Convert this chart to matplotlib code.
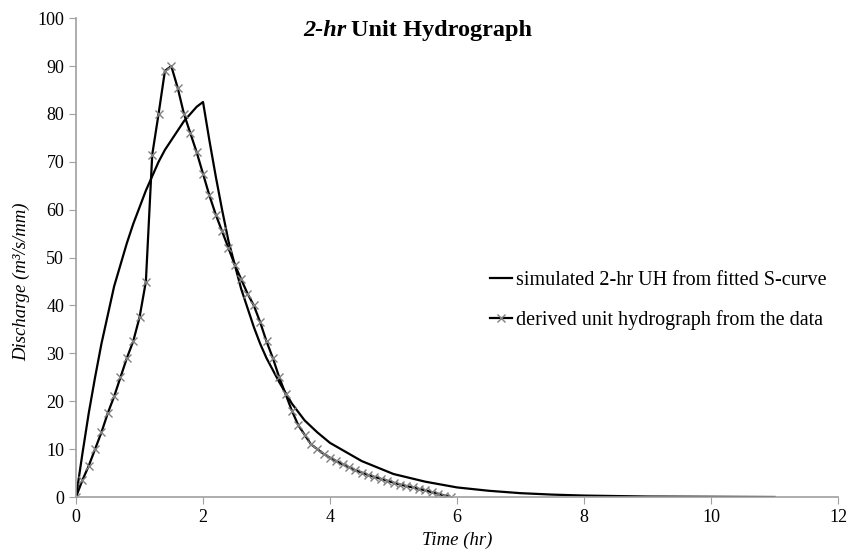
import numpy as np
import matplotlib
matplotlib.use('Agg')
import matplotlib.pyplot as plt

# derived unit hydrograph (0.1 hr steps)
t_derived = [0.0, 0.1, 0.2, 0.3, 0.4, 0.5, 0.6, 0.7, 0.8, 0.9,
             1.0, 1.1, 1.2, 1.3, 1.4, 1.5, 1.6, 1.7, 1.8, 1.9,
             2.0, 2.1, 2.2, 2.3, 2.4, 2.5, 2.6, 2.7, 2.8, 2.9,
             3.0, 3.1, 3.2, 3.3, 3.4, 3.5, 3.6, 3.7, 3.8, 3.9,
             4.0, 4.1, 4.2, 4.3, 4.4, 4.5, 4.6, 4.7, 4.8, 4.9,
             5.0, 5.1, 5.2, 5.3, 5.4, 5.5, 5.6, 5.7, 5.8, 5.9]
q_derived = [0.0, 3.5, 6.5, 10.0, 13.5, 17.5, 21.0, 25.0, 29.0, 32.5,
             37.5, 45.0, 71.5, 80.0, 89.0, 90.0, 85.5, 80.0, 76.0, 72.0,
             67.5, 63.0, 59.0, 55.5, 52.0, 48.5, 45.5, 42.5, 40.0, 36.5,
             32.5, 29.0, 25.0, 21.5, 18.0, 15.0, 13.0, 11.0, 10.0, 9.0,
             8.2, 7.5, 6.8, 6.2, 5.6, 5.1, 4.6, 4.2, 3.8, 3.4,
             3.0, 2.6, 2.3, 2.0, 1.7, 1.4, 1.0, 0.7, 0.3, 0.0]

# simulated 2-hr UH from fitted S-curve
t_sim = [0.0, 0.1, 0.2, 0.3, 0.4, 0.5, 0.6, 0.7, 0.8, 0.9,
         1.0, 1.1, 1.2, 1.3, 1.4, 1.5, 1.6, 1.7, 1.8, 1.9,
         2.0, 2.1, 2.2, 2.3, 2.4, 2.5, 2.6, 2.7, 2.8, 2.9,
         3.0, 3.2, 3.4, 3.6, 3.8, 4.0, 4.5, 5.0, 5.5, 6.0,
         6.5, 7.0, 7.5, 8.0, 8.5, 9.0, 10.0, 11.0]
q_sim = [0.0, 9.0, 17.5, 25.0, 32.0, 38.0, 44.0, 48.5, 53.0, 57.0,
         60.5, 64.0, 67.0, 70.0, 72.5, 74.5, 76.5, 78.5, 80.0, 81.5,
         82.5, 74.5, 67.0, 60.0, 53.5, 48.5, 43.5, 39.5, 35.5, 32.0,
         29.0, 24.0, 19.5, 16.0, 13.5, 11.3, 7.5, 4.8, 3.2, 2.0,
         1.3, 0.8, 0.5, 0.3, 0.2, 0.1, 0.05, 0.0]

plt.rcParams['font.family'] = ['Liberation Serif', 'DejaVu Serif']

fig = plt.figure(figsize=(8.61, 5.6), dpi=100)
ax = fig.add_axes([0.0883, 0.1125, 0.885, 0.855])

ax.plot(t_sim, q_sim, color='black', lw=1.6,
        label='simulated 2-hr UH from fitted S-curve')
ax.plot(t_derived, q_derived, color='black', lw=1.6, marker='x',
        markersize=6, markeredgecolor='#808080', markeredgewidth=1.0,
        label='derived unit hydrograph from the data')

ax.set_xlim(0, 12)
ax.set_ylim(0, 100)
ax.set_xticks(range(0, 13, 2))
ax.set_yticks(range(0, 101, 10))
ax.tick_params(colors='#a0a0a0', labelcolor='black', labelsize=13,
               direction='out', length=5)
for side in ['top', 'right']:
    ax.spines[side].set_visible(False)
for side in ['left', 'bottom']:
    ax.spines[side].set_color('#a0a0a0')
    ax.spines[side].set_linewidth(1.2)

ax.set_xlabel('Time (hr)', fontsize=13.5, style='italic', labelpad=4)
ax.set_ylabel('Discharge (m³/s/mm)', fontsize=13.5, style='italic')
ax.yaxis.set_label_coords(-0.06, 0.45)

fig.text(0.403, 0.936, '2-hr', fontsize=17.5, fontweight='bold', style='italic',
         ha='right', va='baseline')
fig.text(0.408, 0.936, 'Unit Hydrograph', fontsize=17.5, fontweight='bold',
         ha='left', va='baseline')

ax.legend(loc='center left', bbox_to_anchor=(0.543, 0.41), frameon=False,
          fontsize=14.5, handlelength=1.1, handletextpad=0.2, labelspacing=1.0,
          borderpad=0, borderaxespad=0)

fig.savefig('out.png', dpi=100)
